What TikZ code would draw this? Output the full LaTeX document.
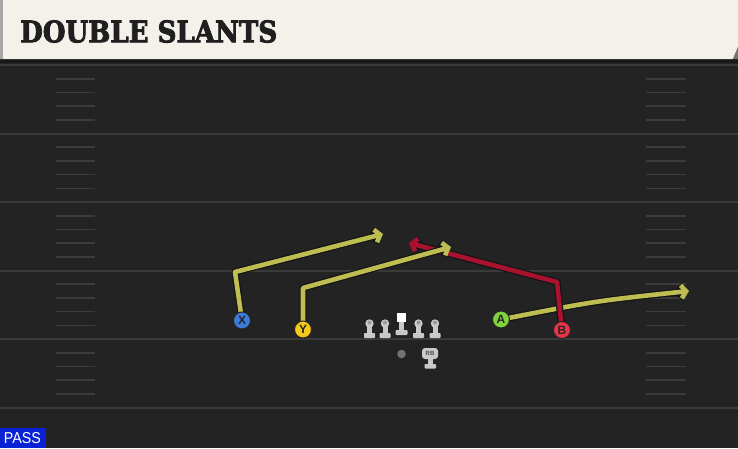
\documentclass[tikz,border=0pt]{standalone}
\usepackage{fontspec}
\usepackage{graphicx}
\setmainfont{DejaVu Serif}
\newfontfamily\titlefont[FakeBold=3]{DejaVu Serif}
\newfontfamily\plfont{Liberation Sans}
\usetikzlibrary{arrows.meta}
\definecolor{fieldbg}{HTML}{232323}
\definecolor{yardln}{HTML}{3A3A3A}
\definecolor{hashln}{HTML}{3C3C3C}
\definecolor{cream}{HTML}{F4F1EA}
\definecolor{routey}{HTML}{BDBD52}
\definecolor{router}{HTML}{A8122F}
\definecolor{plx}{HTML}{3B7BDB}
\definecolor{ply}{HTML}{F4C81C}
\definecolor{pla}{HTML}{80D23C}
\definecolor{plb}{HTML}{E63549}
\definecolor{passblue}{HTML}{0A22D6}
\definecolor{olgray}{HTML}{C9C9C9}
\tikzset{
  yardline/.style={draw=yardln, line width=2pt},
  hashmark/.style={draw=hashln, line width=1.6pt},
  routeout/.style={draw=black!92, line width=7pt, line join=round,
    -{Straight Barb[length=5pt,width=13pt]}},
  routein/.style={line width=4.6pt, line join=round,
    -{Straight Barb[length=5pt,width=13pt]}},
  player/.style={circle, draw=black!85, line width=1pt, minimum size=17pt,
    inner sep=0pt, font=\plfont\bfseries\fontsize{12}{12}\selectfont, text=black!85},
  olpart/.style={fill=olgray, draw=none},
}
\begin{document}
\begin{tikzpicture}[x=1pt,y=-1pt]
\useasboundingbox (0,0) rectangle (738,448);
\fill[fieldbg] (0,0) rectangle (738,448);
% yard lines
\foreach \yy in {65,133.5,202,270.5,339,407.5}
  \draw[yardline] (0,\yy) -- (738,\yy);
% hash marks
\foreach \yy in {65,133.5,202,270.5,339}
  \foreach \k in {1,2,3,4} {
    \draw[hashmark] (56,{\yy+13.7*\k}) -- (95,{\yy+13.7*\k});
    \draw[hashmark] (646,{\yy+13.7*\k}) -- (686,{\yy+13.7*\k});
  }
% header
\fill[black!90] (0,58) rectangle (738,63);
\fill[cream] (0,0) -- (738,0) -- (738,47) -- (733,59) -- (0,59) -- cycle;
\fill[black!55] (738,47) -- (738,59) -- (733,59) -- cycle;
\fill[black!35] (0,0) rectangle (3,59);
\node[anchor=west, inner sep=0pt, text=black!88] (title) at (20,31.5)
  {\resizebox{257pt}{22pt}{\titlefont\bfseries DOUBLE SLANTS}};
% player positions
\coordinate (pX) at (242,320.5);
\coordinate (pY) at (303,329.5);
\coordinate (pA) at (501,319.5);
\coordinate (pB) at (562,330);
% route points
\coordinate (xbend) at (235,272);
\coordinate (xtip) at (383,234);
\coordinate (ybend) at (303,288);
\coordinate (ytip) at (451,247);
\coordinate (bbend) at (557,282);
\coordinate (btip) at (409,243);
\coordinate (atip) at (689,291);
\coordinate (actl) at (595,301);
% routes: A, B, X, Y
\draw[routeout] (pA) .. controls (actl) .. (atip);
\draw[routein, draw=routey] (pA) .. controls (actl) .. (atip);
\draw[routeout] (pB) -- (bbend) -- (btip);
\draw[routein, draw=router] (pB) -- (bbend) -- (btip);
\draw[routeout] (pX) -- (xbend) -- (xtip);
\draw[routein, draw=routey] (pX) -- (xbend) -- (xtip);
\draw[routeout] (pY) -- (ybend) -- (ytip);
\draw[routein, draw=routey] (pY) -- (ybend) -- (ytip);
% players
\node[player, fill=plx] (X) at (pX) {X};
\node[player, fill=ply] (Y) at (pY) {Y};
\node[player, fill=pla] (A) at (pA) {A};
\node[player, fill=plb] (B) at (pB) {B};
% offensive line
\foreach \xx in {369.5,385,418.5,435} {
  \fill[olpart, rounded corners=0.8pt] (\xx-5.5,333) rectangle (\xx+5.5,338);
  \fill[olpart] (\xx-2.5,325) rectangle (\xx+2.5,334);
  \fill[olgray] (\xx,323.5) circle (4.2);
  \fill[black!40] (\xx,322.5) circle (2);
}
\fill[olpart, rounded corners=0.8pt] (395.5,330) rectangle (407.5,335);
\fill[olpart] (399,321) rectangle (404,331);
\node[fill=white, minimum size=9.5pt, inner sep=0pt] (C) at (401.5,317.5) {};
% QB
\node[circle, fill=black!55, minimum size=8.5pt, inner sep=0pt] (QB) at (401.5,354) {};
% RB
\fill[olpart, rounded corners=0.8pt] (424.5,364) rectangle (436,368.5);
\fill[olpart] (428,357) rectangle (432.5,365);
\node[rounded corners=3pt, fill=olgray, minimum width=16pt, minimum height=11pt,
  inner sep=0pt, font=\plfont\bfseries\fontsize{6}{6}\selectfont, text=black!70]
  (RB) at (430,353.5) {RB};
% PASS label
\fill[passblue] (0,428) rectangle (46,448);
\node[inner sep=0pt, text=white] (pass) at (22.5,438.5)
  {\resizebox{37pt}{11pt}{\plfont PASS}};
\end{tikzpicture}
\end{document}
